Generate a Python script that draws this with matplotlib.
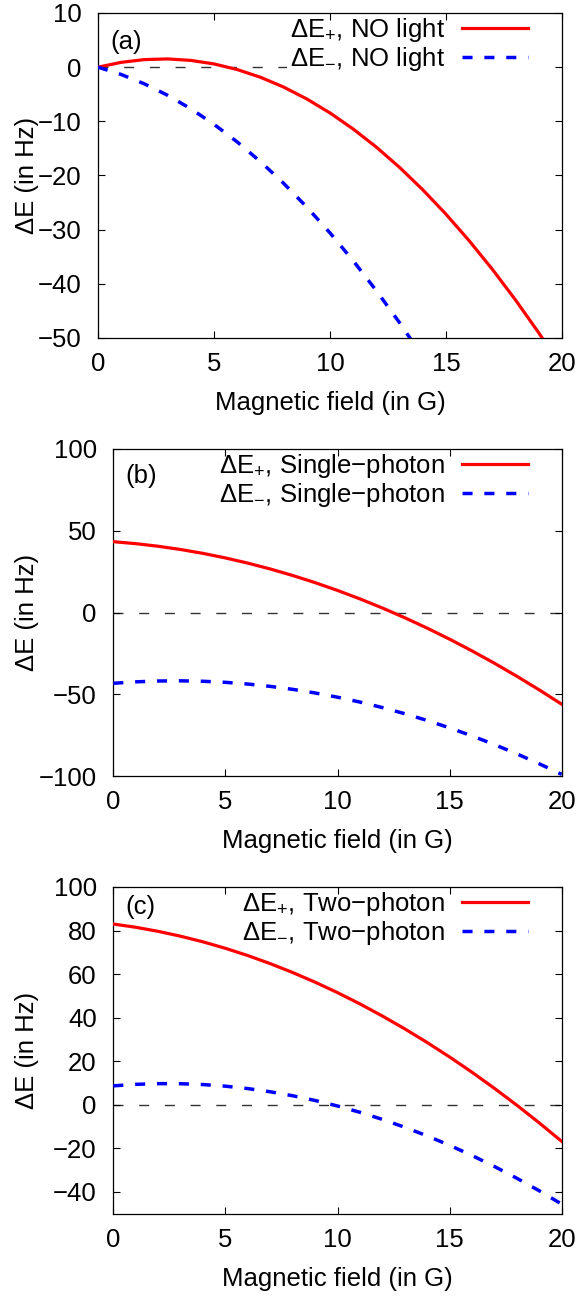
import matplotlib
matplotlib.use("Agg")
import matplotlib.pyplot as plt
from matplotlib.patches import Rectangle

plt.rcParams['font.family'] = ['Liberation Sans', 'DejaVu Sans']
plt.rcParams['mathtext.fontset'] = 'custom'
plt.rcParams['mathtext.rm'] = 'Liberation Sans'
plt.rcParams['mathtext.it'] = 'Liberation Sans:italic'
plt.rcParams['mathtext.bf'] = 'Liberation Sans:bold'
plt.rcParams['axes.unicode_minus'] = True

# ---------------- data ----------------
B = [0, 1, 2, 3, 4, 5, 6, 7, 8, 9, 10, 11, 12, 13, 14, 15, 16, 17, 18, 19, 20]

# (a) no light
a_plus = [0, 0.89, 1.40, 1.52, 1.25, 0.60, -0.44, -1.86, -3.67, -5.87, -8.45,
          -11.42, -14.77, -18.51, -22.64, -27.15, -32.05, -37.33, -43.00, -49.06, -55.5]
a_minus = [0, -1.35, -3.08, -5.19, -7.68, -10.55, -13.80, -17.43, -21.44, -25.83,
           -30.6, -35.75, -41.28, -47.19, -53.48]

# (b) single-photon
b_plus = [43.3, 42.11, 40.52, 38.54, 36.16, 33.38, 30.20, 26.62, 22.64, 18.27, 13.50,
          8.33, 2.76, -3.20, -9.56, -16.33, -23.48, -31.04, -39.00, -47.35, -56.10]
b_minus = [-43.3, -42.41, -41.90, -41.79, -42.06, -42.71, -43.76, -45.19, -47.00, -49.21,
           -51.80, -54.78, -58.14, -61.90, -66.04, -70.56, -75.48, -80.78, -86.46, -92.54, -99.00]

# (c) two-photon
c_plus = [83.0, 81.51, 79.64, 77.41, 74.82, 71.85, 68.52, 64.81, 60.74, 56.31, 51.50,
          46.33, 40.78, 34.87, 28.60, 21.95, 14.94, 7.55, -0.20, -8.31, -16.80]
c_minus = [8.7, 9.39, 9.71, 9.68, 9.30, 8.55, 7.45, 5.98, 4.16, 1.99, -0.55,
           -3.44, -6.70, -10.31, -14.27, -18.60, -23.28, -28.33, -33.73, -39.48, -45.60]

panel_tags = ['(a)', '(b)', '(c)']
legend_names = ['NO light', 'Single\u2212photon', 'Two\u2212photon']
ylims = [(-50, 10), (-100, 100), (-50, 100)]
yticks = [[-50, -40, -30, -20, -10, 0, 10], [-100, -50, 0, 50, 100],
          [-40, -20, 0, 20, 40, 60, 80, 100]]
xticks = [0, 5, 10, 15, 20]
xlabel = 'Magnetic field (in G)'
ylabel = '\u0394E (in Hz)'

plus_series = [a_plus, b_plus, c_plus]
minus_series = [a_minus, b_minus, c_minus]

# ---------------- figure ----------------
W, H = 584, 1298
fig = plt.figure(figsize=(W / 100, H / 100), dpi=100)

# axes boxes in pixels: left, right, top, bottom
boxes = [(98, 562, 13, 338), (113.3, 561.7, 449, 776), (113.3, 561.7, 887, 1213.7)]
FS = 18.5

axes = []
legends = []
for i in range(3):
    l, r, t, b = boxes[i]
    ax = fig.add_axes([l / W, 1 - b / H, (r - l) / W, (b - t) / H])
    wpx, hpx = r - l, b - t

    ax.axhline(0, color='#333333', lw=1.0, dashes=(7.2, 11.3), zorder=1)
    xm = B[:len(minus_series[i])]
    ax.plot(B[:len(plus_series[i])], plus_series[i], color='#ff0000', lw=2.3,
            label='\u0394E$_{+}$, ' + legend_names[i], zorder=3)
    ax.plot(xm, minus_series[i], color='#0000ff', lw=2.5, dashes=(2.9, 3.4),
            label='\u0394E$_{-}$, ' + legend_names[i], zorder=3)

    ax.set_xlim(0, 20)
    ax.set_ylim(*ylims[i])
    ax.set_xticks(xticks)
    ax.set_yticks(yticks[i])
    ax.tick_params(which='both', direction='in', top=True, right=True,
                   length=5, width=0.8, labelsize=FS)
    ax.tick_params(axis='x', pad=10)
    ax.tick_params(axis='y', pad=12)
    for s in ax.spines.values():
        s.set_linewidth(0.9)

    ax.set_xlabel(xlabel, fontsize=FS, va='center')
    ax.xaxis.set_label_coords(0.5, -65 / hpx)
    ax.set_ylabel(ylabel, fontsize=FS, va='center')
    ax.yaxis.set_label_coords((27 - l) / wpx, 0.5)

    tag_y = [0.912, 0.916, 0.940][i]
    ax.text(0.027, tag_y, panel_tags[i], transform=ax.transAxes, fontsize=FS,
            ha='left', va='center')

    leg = ax.legend(loc='upper right', bbox_to_anchor=((531 - l) / wpx, 1.0),
                    frameon=False, fontsize=FS, markerfirst=False,
                    handlelength=2.6, handletextpad=0.65, borderaxespad=0.0,
                    borderpad=0.1, labelspacing=0.05)
    leg.set_zorder(5)
    axes.append(ax)
    legends.append(leg)

# opaque key box in panel (a): white area behind the key, out to the right axis
fig.canvas.draw()
ax0, leg0 = axes[0], legends[0]
bb = leg0.get_window_extent().transformed(ax0.transAxes.inverted())
ax0.add_patch(Rectangle((bb.x0, bb.y0), 1.0 - bb.x0, 1.0 - bb.y0,
                        transform=ax0.transAxes, facecolor='white',
                        edgecolor='none', zorder=1.2))

fig.savefig('out.png', dpi=100)
